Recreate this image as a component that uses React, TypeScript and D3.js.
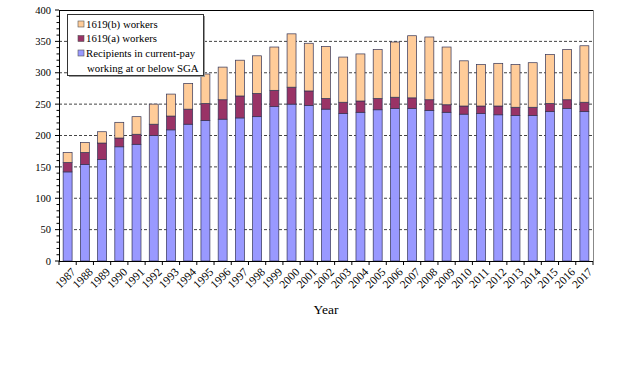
import React, { useEffect, useRef } from 'react';
import * as d3 from 'd3';

const years = [
  '1987', '1988', '1989', '1990', '1991', '1992', '1993', '1994', '1995', '1996',
  '1997', '1998', '1999', '2000', '2001', '2002', '2003', '2004', '2005', '2006',
  '2007', '2008', '2009', '2010', '2011', '2012', '2013', '2014', '2015', '2016', '2017',
];

// recipients in current-pay working at or below SGA
const recipients = [
  142, 154, 162, 182, 186, 200, 209, 218, 224, 226,
  228, 230, 246, 250, 248, 242, 235, 237, 241, 243,
  243, 240, 237, 234, 235, 233, 232, 232, 238, 243, 238,
];
// 1619(a) workers
const workersA = [
  15, 19, 26, 14, 16, 18, 22, 24, 27, 31,
  35, 37, 26, 27, 23, 17, 18, 18, 18, 18,
  17, 17, 12, 13, 12, 14, 13, 13, 13, 14, 15,
];
// 1619(b) workers
const workersB = [
  16, 16, 18, 25, 28, 32, 35, 41, 47, 52,
  57, 60, 69, 85, 76, 83, 72, 75, 78, 88,
  99, 100, 92, 72, 66, 68, 68, 71, 78, 80, 90,
];

const yTicks = [0, 50, 100, 150, 200, 250, 300, 350, 400];

const seriesKeys = ['recipients', 'a', 'b'];
const colors: Record<string, string> = {
  recipients: '#9999ff',
  a: '#993366',
  b: '#ffcc99',
};

const W = 624;
const H = 365;
const margin = { top: 10, right: 31, bottom: 104, left: 59 };
const FONT = '"Liberation Serif", "Times New Roman", serif';

const Chart: React.FC = () => {
  const svgRef = useRef<SVGSVGElement | null>(null);

  useEffect(() => {
    if (!svgRef.current) return;
    const svg = d3.select(svgRef.current);
    svg.selectAll('*').remove();

    const iw = W - margin.left - margin.right;
    const ih = H - margin.top - margin.bottom;

    const x = d3.scaleBand<string>().domain(years).range([0, iw]).paddingInner(0.48).paddingOuter(0.24);
    const y = d3.scaleLinear().domain([0, 400]).range([ih, 0]);

    const g = svg.append('g').attr('transform', `translate(${margin.left},${margin.top})`);

    // gridlines
    g.selectAll('.grid')
      .data(yTicks.filter((t) => t > 0 && t < 400))
      .enter()
      .append('line')
      .attr('x1', 0)
      .attr('x2', iw)
      .attr('y1', (d) => y(d))
      .attr('y2', (d) => y(d))
      .attr('stroke', '#444')
      .attr('stroke-width', 1)
      .attr('stroke-dasharray', '3,2');

    // frame top / right
    g.append('line').attr('x1', 0).attr('x2', iw).attr('y1', 0.5).attr('y2', 0.5).attr('stroke', '#000');
    g.append('line').attr('x1', iw + 0.5).attr('x2', iw + 0.5).attr('y1', 0).attr('y2', ih).attr('stroke', '#888');

    const rows = years.map((yr, i) => ({
      year: yr,
      recipients: recipients[i],
      a: workersA[i],
      b: workersB[i],
    }));
    const stack = d3.stack<any>().keys(seriesKeys);
    const layers = stack(rows);

    layers.forEach((layer) => {
      g.selectAll(`.bar-${layer.key}`)
        .data(layer)
        .enter()
        .append('rect')
        .attr('x', (d: any) => x(d.data.year)!)
        .attr('width', x.bandwidth())
        .attr('y', (d: any) => y(d[1]))
        .attr('height', (d: any) => y(d[0]) - y(d[1]))
        .attr('fill', colors[layer.key])
        .attr('stroke', '#333355')
        .attr('stroke-width', 0.7);
    });

    // y axis
    const yAxis = g.append('g');
    yAxis.append('line').attr('x1', 0.5).attr('x2', 0.5).attr('y1', 0).attr('y2', ih).attr('stroke', '#000');
    yAxis
      .selectAll('.minor')
      .data(d3.range(0, 401, 10))
      .enter()
      .append('line')
      .attr('x1', (d) => (d % 50 === 0 ? -4 : -2.5))
      .attr('x2', 0)
      .attr('y1', (d) => y(d))
      .attr('y2', (d) => y(d))
      .attr('stroke', '#000');
    yAxis
      .selectAll('.lbl')
      .data(yTicks)
      .enter()
      .append('text')
      .attr('x', -8)
      .attr('y', (d) => y(d))
      .attr('dy', '0.35em')
      .attr('text-anchor', 'end')
      .attr('font-family', FONT)
      .attr('font-size', 10.5)
      .text((d) => d);

    // x axis
    const xAxis = g.append('g').attr('transform', `translate(0,${ih})`);
    xAxis.append('line').attr('x1', 0).attr('x2', iw).attr('y1', 0.5).attr('y2', 0.5).attr('stroke', '#000');
    xAxis
      .selectAll('.xt')
      .data(d3.range(years.length + 1))
      .enter()
      .append('line')
      .attr('x1', (i) => i * x.step())
      .attr('x2', (i) => i * x.step())
      .attr('y1', 0)
      .attr('y2', 4)
      .attr('stroke', '#000');
    xAxis
      .selectAll('.xl')
      .data(years)
      .enter()
      .append('text')
      .attr('transform', (d) => `translate(${x(d)! + x.bandwidth() / 2 + 3},6) rotate(-45)`)
      .attr('text-anchor', 'end')
      .attr('dy', '0.7em')
      .attr('font-family', FONT)
      .attr('font-size', 11.5)
      .text((d) => d);

    svg
      .append('text')
      .attr('x', 326)
      .attr('y', 314)
      .attr('text-anchor', 'middle')
      .attr('font-family', FONT)
      .attr('font-size', 13.5)
      .text('Year');

    // legend
    const lg = svg.append('g');
    lg.append('rect').attr('x', 69).attr('y', 16).attr('width', 136).attr('height', 61).attr('fill', '#999');
    lg.append('rect')
      .attr('x', 67.5)
      .attr('y', 14.5)
      .attr('width', 136)
      .attr('height', 61)
      .attr('fill', '#fff')
      .attr('stroke', '#333');
    const items = [
      { key: 'b', lines: ['1619(b) workers'] },
      { key: 'a', lines: ['1619(a) workers'] },
      { key: 'recipients', lines: ['Recipients in current-pay', 'working at or below SGA'] },
    ];
    const itemY = [24, 38.5, 53];
    items.forEach((it, i) => {
      lg.append('rect')
        .attr('x', 78)
        .attr('y', itemY[i] - 3)
        .attr('width', 6)
        .attr('height', 6)
        .attr('fill', colors[it.key])
        .attr('stroke', '#555')
        .attr('stroke-width', 0.6);
      it.lines.forEach((ln, j) => {
        lg.append('text')
          .attr('x', j === 0 ? 86 : 87)
          .attr('y', itemY[i] + j * 15.5)
          .attr('dy', '0.35em')
          .attr('font-family', FONT)
          .attr('font-size', 10.8)
          .text(ln);
      });
    });
  }, []);

  return <svg ref={svgRef} width={W} height={H} style={{ display: 'block', background: '#fff' }} />;
};

export default function App() {
  return (
    <div style={{ position: 'absolute', left: 0, top: 0 }}>
      <Chart />
    </div>
  );
}
